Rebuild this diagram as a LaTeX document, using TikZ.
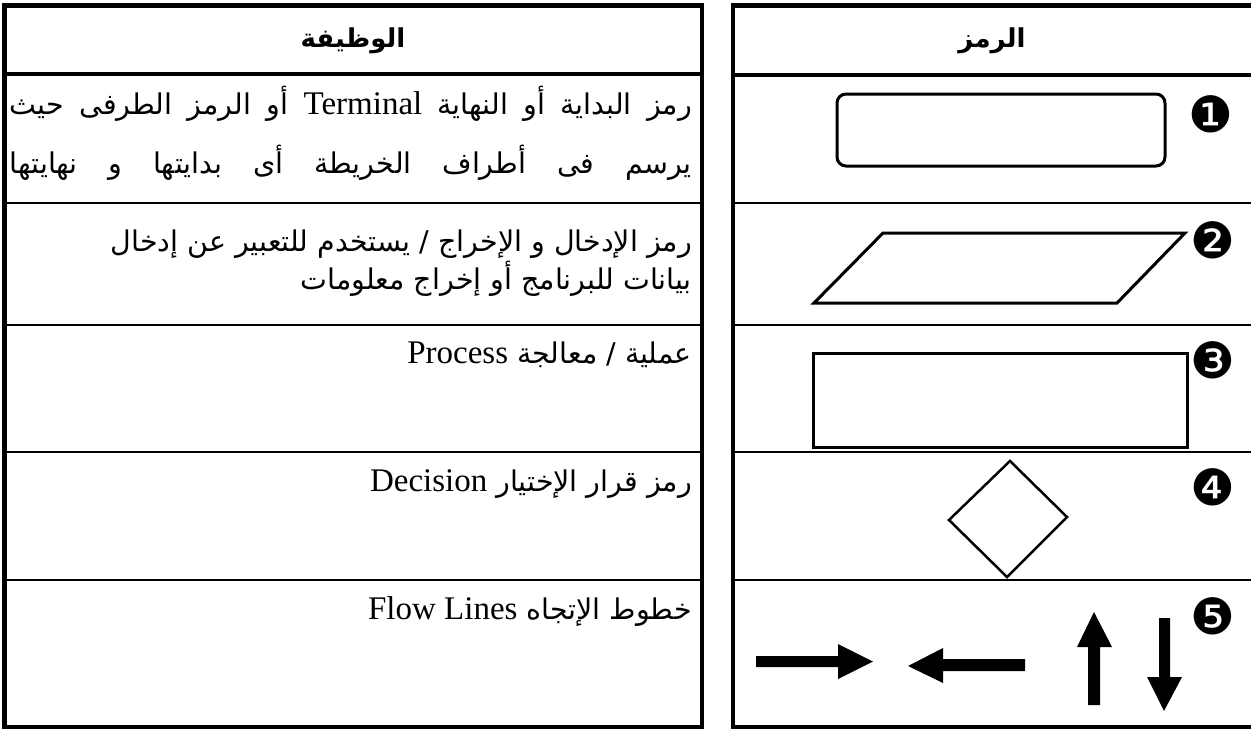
\documentclass[tikz,border=0pt]{standalone}
\usepackage{fontspec}
\setmainfont{Liberation Serif}
\newfontfamily\arabicfont[Script=Arabic]{DejaVu Sans}
\newfontfamily\symfont{DejaVu Sans}
\newcommand\latw[1]{{\rmfamily\fontsize{33}{33}\selectfont #1}}
\newcommand\arsz{\arabicfont\fontsize{28.5}{28.5}\selectfont}
\TeXXeTstate=1
\begin{document}
\begin{tikzpicture}[x=1pt,y=-1pt,
  outer/.style={line width=4.5pt},
  headline/.style={line width=4pt},
  rowline/.style={line width=2.5pt},
  shapeline/.style={line width=3pt, line join=miter},
  txt/.style={inner sep=0pt, anchor=base east},
  head/.style={inner sep=0pt, anchor=base, font=\fontsize{26}{26}\selectfont\bfseries},
  num/.style={inner sep=0pt, font=\symfont\fontsize{50}{50}\selectfont},
  arrowshape/.style={fill=black}
]
\useasboundingbox (0,0) rectangle (1251,729);
\fill[white] (0,0) rectangle (1251,729);

% left table
\draw[outer] (4.5,5.5) rectangle (702,727);
\draw[headline] (4.5,74) -- (702,74);
\foreach \yy in {203,325,452,580} \draw[rowline] (4.5,\yy) -- (702,\yy);

% right table
\draw[outer] (1262,5.5) -- (733,5.5) -- (733,727) -- (1262,727);
\draw[headline] (733,75) -- (1262,75);
\foreach \yy in {203,325,452,580} \draw[rowline] (733,\yy) -- (1262,\yy);

% headers
\node[head] (h1) at (353,47) {\arabicfont\bfseries\beginR الوظيفة\endR};
\node[head] (h2) at (992,47) {\arabicfont\bfseries\beginR الرمز\endR};

% row texts
\node[txt] (t1a) at (692,114) {\arsz\hbox to 682pt{\spaceskip=0.3em plus 1fil\beginR رمز البداية أو النهاية \latw{Terminal} أو الرمز الطرفى حيث\endR}};
\node[txt] (t1b) at (692,173) {\arsz\hbox to 682pt{\spaceskip=0.3em plus 1fil\beginR يرسم فى أطراف الخريطة أى بدايتها و نهايتها\endR}};
\node[txt] (t2a) at (692,251) {\arsz\beginR رمز الإدخال و الإخراج / يستخدم للتعبير عن إدخال\endR};
\node[txt] (t2b) at (692,289) {\arsz\beginR بيانات للبرنامج أو إخراج معلومات\endR};
\node[txt] (t3) at (692,363) {\arsz\beginR عملية / معالجة \latw{Process}\endR};
\node[txt] (t4) at (692,491) {\arsz\beginR رمز قرار الإختيار \latw{Decision}\endR};
\node[txt] (t5) at (692,619) {\arsz\beginR خطوط الإتجاه \latw{\beginL Flow Lines\endL}\endR};

% symbols
\draw[shapeline, rounded corners=9pt] (837,94) rectangle (1165,166);
\draw[shapeline] (883,233) -- (1185,233) -- (1117,303) -- (814,303) -- cycle;
\draw[shapeline] (813,353) rectangle (1187,447);
\draw[line width=2.5pt, line join=miter] (1010,461) -- (1067,517) -- (1007,577) -- (949,520) -- cycle;

\fill[arrowshape] (756,656) -- (838,656) -- (838,644) -- (873,661.5) -- (838,679) -- (838,667) -- (756,667) -- cycle;
\fill[arrowshape] (1025,659) -- (943,659) -- (943,648) -- (908,666) -- (943,683) -- (943,671) -- (1025,671) -- cycle;
\fill[arrowshape] (1088,705) -- (1088,647) -- (1077,647) -- (1094,612) -- (1112,647) -- (1100,647) -- (1100,705) -- cycle;
\fill[arrowshape] (1159,618) -- (1159,677) -- (1147,677) -- (1164,711) -- (1182,677) -- (1170,677) -- (1170,618) -- cycle;

% numbers
\node[num] (n1) at (1211,114) {❶};
\node[num] (n2) at (1213,240) {❷};
\node[num] (n3) at (1213,360) {❸};
\node[num] (n4) at (1213,487) {❹};
\node[num] (n5) at (1213,616) {❺};
\end{tikzpicture}
\end{document}
